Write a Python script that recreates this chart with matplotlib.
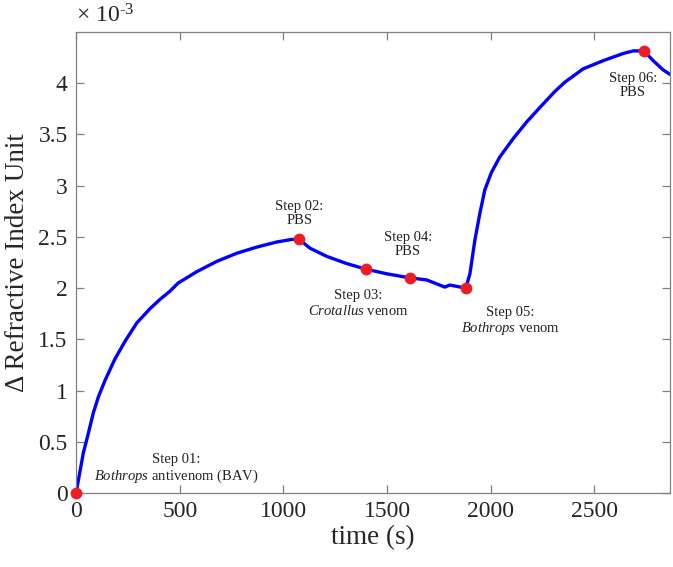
import matplotlib
matplotlib.use("Agg")
import matplotlib.pyplot as plt

plt.rcParams['font.family'] = ['Liberation Serif', 'DejaVu Serif']
plt.rcParams['mathtext.fontset'] = 'custom'
plt.rcParams['mathtext.rm'] = 'Liberation Serif'
plt.rcParams['mathtext.it'] = 'Liberation Serif:italic'

# data (RIU in units of 1e-3)
time_s = [0, 35, 59, 83, 108, 140, 188, 236, 293, 357, 405, 453, 493, 582, 678,
          775, 871, 968, 1040, 1077, 1128, 1209, 1305, 1398, 1498, 1610, 1691,
          1779, 1803, 1880, 1900, 1924, 1948, 1972, 2004, 2044, 2109, 2173,
          2245, 2310, 2358, 2446, 2543, 2639, 2687, 2740, 2784, 2832, 2870]
riu = [0, 0.39, 0.58, 0.78, 0.94, 1.10, 1.31, 1.48, 1.66, 1.80, 1.89, 1.97,
       2.05, 2.16, 2.26, 2.34, 2.40, 2.45, 2.475, 2.475, 2.39, 2.31, 2.24, 2.185,
       2.14, 2.10, 2.08, 2.01, 2.03, 2.00, 2.14, 2.47, 2.73, 2.96, 3.13, 3.28,
       3.46, 3.62, 3.78, 3.92, 4.01, 4.14, 4.22, 4.29, 4.315, 4.315, 4.22,
       4.13, 4.08]

step_t = [0, 1077, 1398, 1610, 1880, 2740]
step_riu = [0, 2.475, 2.185, 2.10, 2.00, 4.315]

step_labels = ["Step 01:\n$\\mathit{Bothrops}$ antivenom (BAV)",
               "Step 02:\nPBS",
               "Step 03:\n$\\mathit{Crotallus}$ venom",
               "Step 04:\nPBS",
               "Step 05:\n$\\mathit{Bothrops}$ venom",
               "Step 06:\nPBS"]
label_pos = [(482, 0.235), (1077, 2.73), (1362, 1.85), (1601, 2.425),
             (2093, 1.675), (2687, 3.98)]

x_ticks = [0, 500, 1000, 1500, 2000, 2500]
y_ticks = [0, 0.5, 1, 1.5, 2, 2.5, 3, 3.5, 4]
y_tick_labels = ['0', '0.5', '1', '1.5', '2', '2.5', '3', '3.5', '4']

fig = plt.figure(figsize=(6.73, 5.67), dpi=100)
ax = fig.add_axes([0.113, 0.1305, 0.8825, 0.8131])

ax.plot(time_s, riu, color='#0000ff', lw=2.4, zorder=2)
ax.plot(step_t, step_riu, 'o', color='#ee1d23', ms=8.5, mec='none',
        clip_on=False, zorder=3)

for lab, (tx, ty) in zip(step_labels, label_pos):
    ax.text(tx, ty, lab, ha='center', va='center', fontsize=10.5,
            linespacing=1.15, color='#222222')

ax.set_xlim(0, 2865)
ax.set_ylim(0, 4.5)
ax.set_xticks(x_ticks)
ax.set_yticks(y_ticks)
ax.set_yticklabels(y_tick_labels)

axcol = '#808080'
for s in ax.spines.values():
    s.set_color(axcol)
    s.set_linewidth(0.9)
ax.tick_params(direction='in', length=6, width=0.9, color=axcol,
               labelsize=17, top=True, right=True, labelcolor='#262626', pad=6)

ax.set_xlabel('time (s)', fontsize=19.5, color='#262626', labelpad=2)
ax.set_ylabel('Δ Refractive Index Unit', fontsize=19.5, color='#262626', labelpad=6)

ax.text(0.0, 1.01, '× 10$^{\\text{-3}}$', transform=ax.transAxes,
        fontsize=17, ha='left', va='bottom', color='#262626')

fig.savefig('out.png', dpi=100)
